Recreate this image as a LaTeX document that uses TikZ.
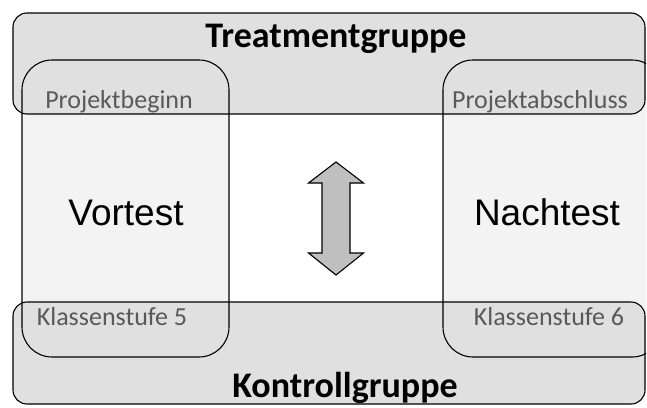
\documentclass[tikz,border=0pt]{standalone}
\usepackage{fontspec}
\setmainfont{Carlito}
\newfontfamily\arialfont{Liberation Sans}
\definecolor{groupgrey}{HTML}{E0E0E0}
\definecolor{innerfill}{HTML}{F3F3F3}
\definecolor{labelgrey}{HTML}{595959}
\definecolor{arrowgrey}{HTML}{BFBFBF}
\begin{document}
\begin{tikzpicture}[x=1pt,y=-1pt,
  groupbox/.style={draw=black,line width=1.1pt,fill=groupgrey,rounded corners=14pt},
  phasebox/.style={draw=black,line width=1.1pt,rounded corners=30pt},
  grouptitle/.style={font=\fontsize{36}{38}\selectfont\bfseries,text=black,inner sep=0pt},
  phaselabel/.style={font=\fontsize{26}{28}\selectfont,text=labelgrey,inner sep=0pt},
  testlabel/.style={font=\arialfont\fontsize{37}{40}\selectfont,text=black,inner sep=0pt}]
\useasboundingbox (0,0) rectangle (647,407);
\fill[white] (0,0) rectangle (647,407);
\begin{scope}
\clip (0,0) rectangle (646,407);
% column fills underneath the group bands
\fill[innerfill,rounded corners=30pt] (22,60) rectangle (229,357);
\fill[innerfill,rounded corners=30pt] (443,60) rectangle (662,357);
% group bands
\draw[groupbox] (13,13) rectangle (645,114);
\draw[groupbox] (13,302) rectangle (645,404);
% column outlines on top
\draw[phasebox] (22,60) rectangle (229,357);
\draw[phasebox] (443,60) rectangle (662,357);
\end{scope}
\node[grouptitle,anchor=base] (treat) at (336,47) {Treatmentgruppe};
\node[grouptitle,anchor=base] (ctrl) at (345,397) {Kontrollgruppe};
\node[phaselabel,anchor=base] (beg) at (119,108) {Projektbeginn};
\node[phaselabel,anchor=base] (end) at (540,108) {Projektabschluss};
\node[phaselabel,anchor=base] (k5) at (112,325) {Klassenstufe 5};
\node[phaselabel,anchor=base] (k6) at (549,325) {Klassenstufe 6};
\node[testlabel,anchor=base] (vor) at (126,225) {Vortest};
\node[testlabel,anchor=base] (nach) at (547,225) {Nachtest};
% two-headed arrow between the tests
\coordinate (arr) at (336,218.5);
\draw[line width=1.1pt,fill=arrowgrey,line join=miter]
  (336,162) -- (363.5,183) -- (350,183) -- (350,253) -- (363.5,253)
  -- (336,275) -- (308.5,253) -- (322,253) -- (322,183) -- (308.5,183) -- cycle;
\end{tikzpicture}
\end{document}
